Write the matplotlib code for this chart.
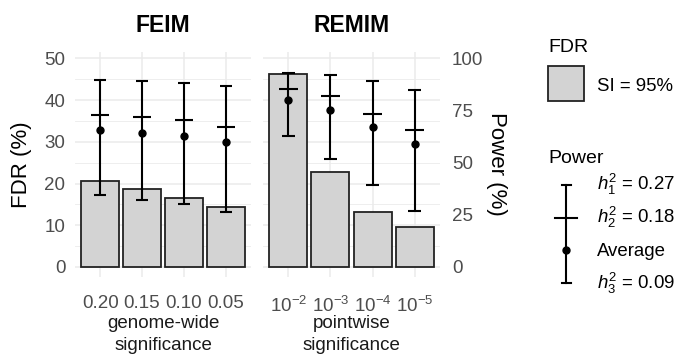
import numpy as np
import matplotlib
matplotlib.use("Agg")
import matplotlib.pyplot as plt
from matplotlib.patches import Rectangle
from matplotlib.ticker import MultipleLocator

plt.rcParams["font.family"] = ["Liberation Sans", "DejaVu Sans"]
plt.rcParams["mathtext.fontset"] = "custom"
plt.rcParams["mathtext.rm"] = "Liberation Sans"
plt.rcParams["mathtext.it"] = "Liberation Sans:italic"
plt.rcParams["mathtext.bf"] = "Liberation Sans:bold"

# --- data ---
feim_levels = ["0.20", "0.15", "0.10", "0.05"]
remim_levels = [r"$10^{-2}$", r"$10^{-3}$", r"$10^{-4}$", r"$10^{-5}$"]

# FDR (%) bars
feim_fdr = [20.6, 18.8, 16.6, 14.3]
remim_fdr = [46.2, 22.8, 13.1, 9.6]

# power (%) for each heritability + average
feim_h1 = [89.6, 89.0, 88.3, 86.7]
feim_h2 = [73.1, 71.7, 70.4, 67.0]
feim_avg = [65.8, 64.3, 62.7, 60.0]
feim_h3 = [34.7, 32.3, 30.1, 26.4]

remim_h1 = [93.1, 92.3, 89.3, 84.8]
remim_h2 = [85.3, 81.9, 73.6, 65.6]
remim_avg = [80.3, 75.5, 67.2, 58.9]
remim_h3 = [62.7, 51.8, 39.5, 26.9]

W, H = 678, 356
fig = plt.figure(figsize=(W / 100, H / 100), dpi=100)

GRID = "#EBEBEB"
BAR_FILL = "#D3D3D3"
BAR_EDGE = "#222222"
TICK_COL = "#4D4D4D"


def px_axes(x0, y0, x1, y1):
    return fig.add_axes([x0 / W, 1 - y1 / H, (x1 - x0) / W, (y1 - y0) / H])


def fig_text(x, y, s, **kw):
    return fig.text(x / W, 1 - y / H, s, **kw)


def draw_panel(ax, levels, fdr, h1, h2, avg, h3, left_axis):
    x = np.arange(len(levels))
    ax.set_xlim(-0.6, len(levels) - 0.4)
    ax.set_ylim(-2.5, 51.5)
    ax.set_yticks([0, 10, 20, 30, 40, 50])
    ax.yaxis.set_minor_locator(MultipleLocator(5))
    ax.grid(which="major", color=GRID, lw=1.1)
    ax.grid(which="minor", axis="y", color=GRID, lw=0.6)
    ax.set_axisbelow(True)
    for s in ax.spines.values():
        s.set_visible(False)
    ax.bar(x, fdr, width=0.9, color=BAR_FILL, edgecolor=BAR_EDGE, lw=1.3, zorder=2)
    ax.set_xticks(x, levels)
    ax.tick_params(which="both", length=0, labelsize=13.5, labelcolor=TICK_COL)
    ax.tick_params(axis="x", pad=13)
    ax.tick_params(axis="y", pad=7, labelleft=left_axis)

    tw = ax.twinx()
    tw.set_ylim(-5, 103)
    tw.set_yticks([0, 25, 50, 75, 100])
    for s in tw.spines.values():
        s.set_visible(False)
    tw.tick_params(length=0, labelsize=13.5, labelcolor=TICK_COL, pad=8.5,
                   labelright=not left_axis)
    tw.vlines(x, h3, h1, color="black", lw=1.5, zorder=3)
    tw.hlines(h1, x - 0.15, x + 0.15, color="black", lw=1.5, zorder=3)
    tw.hlines(h3, x - 0.15, x + 0.15, color="black", lw=1.5, zorder=3)
    tw.hlines(h2, x - 0.22, x + 0.22, color="black", lw=1.5, zorder=3)
    tw.plot(x, avg, "o", color="black", ms=5, zorder=4)


ax1 = px_axes(75, 52.2, 251, 277.4)
draw_panel(ax1, feim_levels, feim_fdr, feim_h1, feim_h2, feim_avg, feim_h3, True)
ax2 = px_axes(263, 52.2, 440, 277.4)
draw_panel(ax2, remim_levels, remim_fdr, remim_h1, remim_h2, remim_avg, remim_h3, False)

# titles and axis titles
fig_text(163, 32, "FEIM", ha="center", va="baseline", fontsize=16.5, fontweight="bold")
fig_text(351.5, 32, "REMIM", ha="center", va="baseline", fontsize=16.5, fontweight="bold")
fig_text(21, 165, "FDR (%)", ha="center", va="center", rotation=90, fontsize=16)
fig_text(496, 164, "Power (%)", ha="center", va="center", rotation=-90, fontsize=16)
fig_text(163, 328.5, "genome-wide", ha="center", va="baseline", fontsize=13.5, color="#1A1A1A")
fig_text(163, 350.5, "significance", ha="center", va="baseline", fontsize=13.5, color="#1A1A1A")
fig_text(351.5, 328.5, "pointwise", ha="center", va="baseline", fontsize=13.5, color="#1A1A1A")
fig_text(351.5, 350.5, "significance", ha="center", va="baseline", fontsize=13.5, color="#1A1A1A")

# legend drawn in pixel space
lg = fig.add_axes([0, 0, 1, 1])
lg.set_xlim(0, W)
lg.set_ylim(H, 0)
lg.axis("off")
lg.text(548, 52, "FDR", ha="left", va="baseline", fontsize=14)
lg.add_patch(Rectangle((548, 66), 36, 35, facecolor=BAR_FILL, edgecolor=BAR_EDGE, lw=1.3))
lg.text(597, 91, "SI = 95%", ha="left", va="baseline", fontsize=13.4)
lg.text(548, 163, "Power", ha="left", va="baseline", fontsize=14)
lg.plot([566, 566], [185, 283], color="black", lw=1.5)
lg.plot([561.5, 570.5], [185, 185], color="black", lw=1.5)
lg.plot([561.5, 570.5], [283, 283], color="black", lw=1.5)
lg.plot([555, 577], [218, 218], color="black", lw=1.5)
lg.plot([566], [250], "o", color="black", ms=5)
lg.text(597, 190, r"$h_1^2$ = 0.27", ha="left", va="baseline", fontsize=13.4)
lg.text(597, 223.5, r"$h_2^2$ = 0.18", ha="left", va="baseline", fontsize=13.4)
lg.text(597, 256.5, "Average", ha="left", va="baseline", fontsize=13.4)
lg.text(597, 289.5, r"$h_3^2$ = 0.09", ha="left", va="baseline", fontsize=13.4)

fig.savefig("out.png", dpi=100)
